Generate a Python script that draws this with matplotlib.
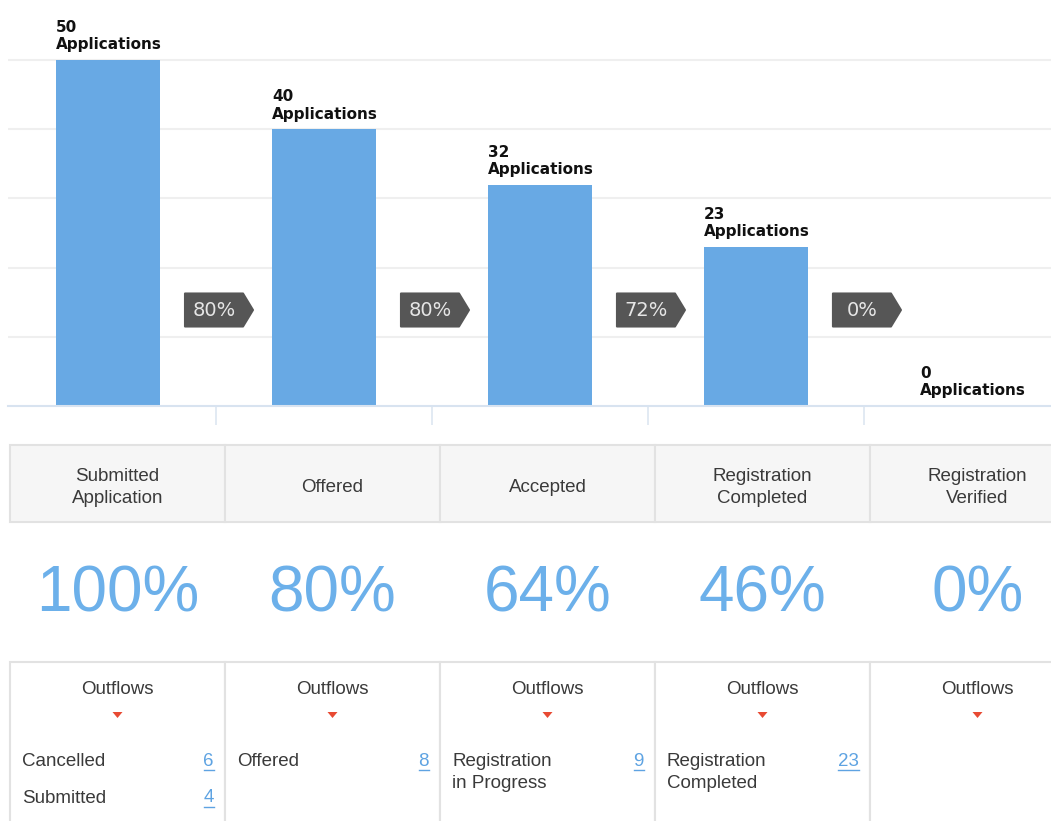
import numpy as np
import matplotlib.pyplot as plt
from matplotlib.patches import Rectangle, Polygon

# Funnel data
stages = ["Submitted\nApplication", "Offered", "Accepted",
          "Registration\nCompleted", "Registration\nVerified"]
applications = [50, 40, 32, 23, 0]
step_conversion = ["80%", "80%", "72%", "0%"]
cumulative = ["100%", "80%", "64%", "46%", "0%"]
outflow_labels = [["Cancelled", "Submitted"], ["Offered"],
                  ["Registration\nin Progress"], ["Registration\nCompleted"], []]
outflow_counts = [[6, 4], [8], [9], [23], []]

# Colours
bar_blue = "#68a9e4"
pct_blue = "#6cb0ea"
link_blue = "#5ea3e2"
grid_col = "#efefef"
border_col = "#e2e2e2"
text_col = "#3a3a3a"

W, H = 1051, 821
fig = plt.figure(figsize=(W / 100, H / 100), dpi=100)

# ---- bar chart (top) ----
px_per_unit = 6.92
base_px = 406
ax = fig.add_axes([8 / W, (H - base_px) / H, (W - 8) / W, base_px / H])
x = np.arange(len(stages))
ax.bar(x, applications, width=0.48, color=bar_blue, zorder=2)
ax.set_xlim(-0.463, 4.366)
ax.set_ylim(0, base_px / px_per_unit)
for gy in range(10, 60, 10):
    ax.axhline(gy, color=grid_col, lw=1.5, zorder=1)
for s in ["top", "right", "left"]:
    ax.spines[s].set_visible(False)
ax.spines["bottom"].set_color("#d8e3f0")
ax.spines["bottom"].set_linewidth(1.5)
ax.set_xticks(x[:-1] + 0.5)
ax.set_xticklabels([])
ax.tick_params(axis="x", length=14, width=1.2, color="#dde6f1")
ax.set_yticks([])

for i, v in enumerate(applications):
    ax.text(x[i] - 0.24, v + 1.1, f"{v}\nApplications", ha="left", va="bottom",
            fontsize=11, fontweight="bold", color="#111111",
            family="DejaVu Sans", linespacing=1.2, zorder=3)

# conversion badges between bars
bw_l, bw_r, tip = 31 / 216, 27 / 216, 37 / 216
bh = 16.5 / px_per_unit
by = (base_px - 310) / px_per_unit
for i, lab in enumerate(step_conversion):
    b = x[i] + 0.5
    poly = Polygon([(b - bw_l, by - bh), (b + bw_r, by - bh), (b + tip, by),
                    (b + bw_r, by + bh), (b - bw_l, by + bh)],
                   closed=True, facecolor="#565656", edgecolor="#565656",
                   lw=1.5, joinstyle="round", zorder=4)
    ax.add_patch(poly)
    ax.text(b - 0.01, by, lab, ha="center", va="center", fontsize=14,
            color="#e6e6e6", family="DejaVu Sans", zorder=5)

# ---- table (bottom) in pixel coordinates ----
ov = fig.add_axes([0, 0, 1, 1])
ov.set_xlim(0, W)
ov.set_ylim(H, 0)
ov.axis("off")

col_left = 10
col_w = 215
hdr_top, hdr_bot = 445, 522
box_top = 662

for i, name in enumerate(stages):
    cx0 = col_left + i * col_w
    ov.add_patch(Rectangle((cx0, hdr_top), col_w, hdr_bot - hdr_top,
                           facecolor="#f6f6f6", edgecolor=border_col, lw=1.5))
    cc = cx0 + col_w / 2
    ov.text(cc, (hdr_top + hdr_bot) / 2 + 4, name, ha="center", va="center",
            fontsize=13.5, color=text_col, family="Liberation Sans",
            linespacing=1.35)
    ov.text(cc, 595, cumulative[i], ha="center", va="center", fontsize=46,
            color=pct_blue, family="Liberation Sans")
    ov.add_patch(Rectangle((cx0, box_top), col_w, H - box_top + 10,
                           facecolor="white", edgecolor=border_col, lw=1.5))
    ov.text(cc, 690, "Outflows", ha="center", va="center", fontsize=13.5,
            color=text_col, family="Liberation Sans")
    ov.add_patch(Polygon([(cc - 5, 712), (cc + 5, 712), (cc, 718)],
                         closed=True, facecolor="#e84a33", edgecolor="none"))
    row_y = 761
    for lab, cnt in zip(outflow_labels[i], outflow_counts[i]):
        ov.text(cx0 + 12, row_y - 8, lab, ha="left", va="top", fontsize=13.5,
                color=text_col, family="Liberation Sans", linespacing=1.35)
        t = ov.text(cx0 + col_w - 11, row_y, str(cnt), ha="right", va="center",
                    fontsize=13.5, color=link_blue, family="Liberation Sans")
        fig.canvas.draw()
        bb = t.get_window_extent().transformed(ov.transData.inverted())
        ov.plot([bb.x0, bb.x1], [row_y + 9, row_y + 9], color=link_blue, lw=1)
        row_y += 37

fig.savefig("out.png", dpi=100)
